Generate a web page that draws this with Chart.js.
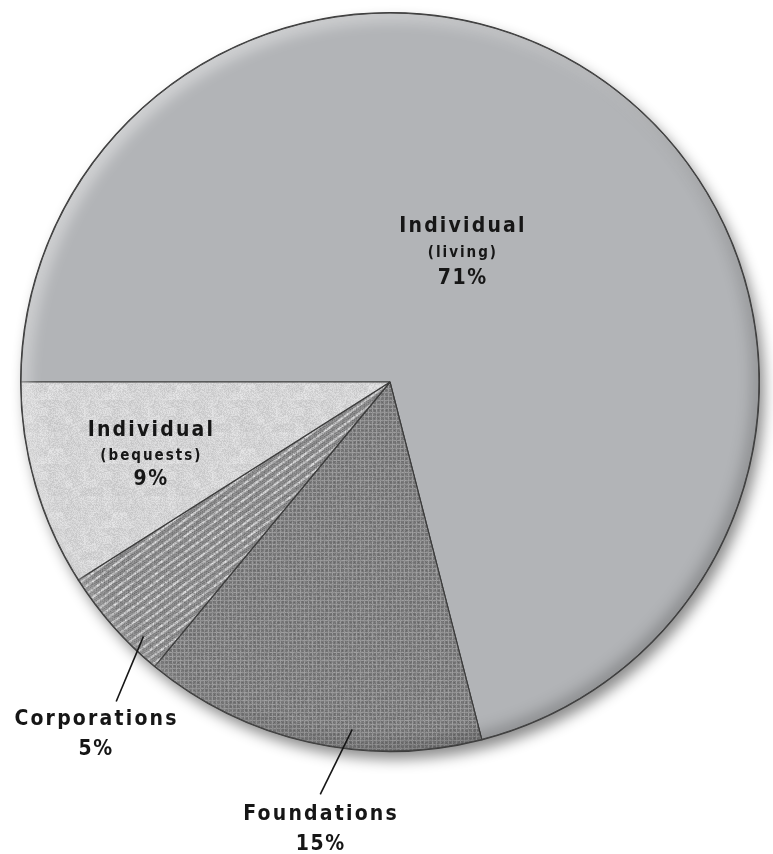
<!DOCTYPE html>
<html>
    <head>
        <meta charset="utf-8" />
        <title>Sources of giving</title>
        <script src="https://cdn.jsdelivr.net/npm/chart.js@4/dist/chart.umd.min.js"></script>
        <style>
            body { margin: 0; background: #fff; }
            #wrap { width: 773px; height: 854px; position: relative; }
        </style>
        <script>
            // slices in drawing order, clockwise from 9 o'clock
            const categories = ["Individual (living)", "Foundations", "Corporations", "Individual (bequests)"];
            const shares = [71, 15, 5, 9];
            const labelTitles = ["Individual", "Foundations", "Corporations", "Individual"];
            const labelNotes = ["(living)", null, null, "(bequests)"];

            // where each label sits, relative to its slice's middle angle (deg) and the radius
            const labelPlace = [
                { turn: -13.0, dist: 0.464, gaps: [27, 25] },
                { turn: -3.4, dist: 1.185, gaps: [30], leader: [-6.4, 0.946, -3.0, 1.132] },
                { turn: -7.5, dist: 1.213, gaps: [30], leader: [-4.5, 0.959, -8.0, 1.139] },
                { turn: 4.7, dist: 0.662, gaps: [25, 24] }
            ];

            const FONT = '"DejaVu Sans Condensed", "DejaVu Sans", sans-serif';

            // cheap integer hash so the textures are the same every time
            function hash(x, y, s)
            {
                let n = Math.imul(x, 374761393) + Math.imul(y, 668265263) + Math.imul(s, 1442695041);
                n = Math.imul(n ^ (n >>> 13), 1274126177);
                n = n ^ (n >>> 16);
                return (n >>> 0) / 4294967295;
            }

            function makeTexture(size, shade)
            {
                let c = document.createElement("canvas");
                c.width = size; c.height = size;
                let g = c.getContext("2d");
                let img = g.createImageData(size, size);
                for (let y = 0; y < size; y++) {
                    for (let x = 0; x < size; x++) {
                        let v = Math.max(0, Math.min(255, Math.round(shade(x, y))));
                        let i = (y * size + x) * 4;
                        img.data[i] = v; img.data[i + 1] = v; img.data[i + 2] = v + 1; img.data[i + 3] = 255;
                    }
                }
                g.putImageData(img, 0, 0);
                return g.createPattern(c, "repeat");
            }

            function buildFills()
            {
                // plain grey for the big slice
                let living = "#b2b4b7";

                // light speckled stone
                let bequests = makeTexture(64, (x, y) => {
                    let blot = hash(x >> 3, y >> 3, 7) * 10;
                    return 208 + blot + (hash(x, y, 1) - 0.5) * 26;
                });

                // streaky woven grey, pale streaks running down to the left
                let corporations = makeTexture(64, (x, y) => {
                    let s = Math.sin(2 * Math.PI * 2 * (3 * x + 4 * y) / 64);
                    let broken = 0.4 + 0.6 * hash((4 * x - 3 * y + 256) >> 3, (3 * x + 4 * y) >> 4, 3);
                    let weave = ((x + 2 * y) % 4 === 0) ? -16 : 0;
                    return 138 + Math.max(0, s) * 85 * broken + weave + (hash(x, y, 2) - 0.5) * 30;
                });

                // fine crosshatch
                let foundations = makeTexture(64, (x, y) => {
                    let line = (x % 4 === 0 || y % 4 === 0) ? 30 : 0;
                    let dot = (x % 4 === 2 && y % 4 === 2) ? -10 : 0;
                    return 120 + line + dot + (hash(x, y, 5) - 0.5) * 22;
                });

                return [living, foundations, corporations, bequests];
            }

            function pieGeometry(chart)
            {
                let arc = chart.getDatasetMeta(0).data[0];
                return arc.getProps(["x", "y", "outerRadius"], true);
            }

            // soft drop shadow under the whole pie
            const dropShadow = {
                id: "dropShadow",
                beforeDatasetsDraw(chart)
                {
                    let { ctx } = chart;
                    let p = pieGeometry(chart);
                    ctx.save();
                    ctx.shadowColor = "rgba(0,0,0,0.45)";
                    ctx.shadowBlur = 14;
                    ctx.shadowOffsetX = 5;
                    ctx.shadowOffsetY = 8;
                    ctx.beginPath();
                    ctx.arc(p.x, p.y, p.outerRadius, 0, Math.PI * 2);
                    ctx.fillStyle = "#999";
                    ctx.fill();
                    ctx.restore();
                }
            };

            // raised rim: light on the upper left, dark on the lower right
            const bevel = {
                id: "bevel",
                afterDatasetsDraw(chart)
                {
                    let { ctx } = chart;
                    let p = pieGeometry(chart);
                    let rim = (color, dx, dy) => {
                        ctx.save();
                        ctx.beginPath();
                        ctx.arc(p.x, p.y, p.outerRadius - 0.5, 0, Math.PI * 2);
                        ctx.clip();
                        ctx.beginPath();
                        ctx.rect(p.x - p.outerRadius * 2, p.y - p.outerRadius * 2, p.outerRadius * 4, p.outerRadius * 4);
                        ctx.arc(p.x, p.y, p.outerRadius, 0, Math.PI * 2, true);
                        ctx.shadowColor = color;
                        ctx.shadowBlur = 16;
                        ctx.shadowOffsetX = dx;
                        ctx.shadowOffsetY = dy;
                        ctx.fillStyle = "#000";
                        ctx.fill("evenodd");
                        ctx.restore();
                    };
                    rim("rgba(255,255,255,0.55)", 6, 6);
                    rim("rgba(0,0,0,0.25)", -5, -5);

                    // outline again on top of the rim shading
                    ctx.save();
                    ctx.beginPath();
                    ctx.arc(p.x, p.y, p.outerRadius - 0.5, 0, Math.PI * 2);
                    ctx.strokeStyle = "#444";
                    ctx.lineWidth = 1;
                    ctx.stroke();
                    ctx.restore();
                }
            };

            // slice labels, plus leader lines for the two narrow ones outside
            const sliceLabels = {
                id: "sliceLabels",
                afterDraw(chart)
                {
                    let { ctx } = chart;
                    let arcs = chart.getDatasetMeta(0).data;
                    let polar = (p, deg, frac) => {
                        let a = deg * Math.PI / 180;
                        return [p.x + Math.cos(a) * p.outerRadius * frac, p.y + Math.sin(a) * p.outerRadius * frac];
                    };
                    ctx.save();
                    ctx.fillStyle = "#161616";
                    ctx.strokeStyle = "#161616";
                    ctx.textAlign = "center";
                    ctx.textBaseline = "middle";
                    arcs.forEach((arc, i) => {
                        let p = arc.getProps(["x", "y", "startAngle", "endAngle", "outerRadius"], true);
                        let mid = (p.startAngle + p.endAngle) / 2 * 180 / Math.PI;
                        let place = labelPlace[i];

                        if (place.leader) {
                            let [a1, f1, a2, f2] = place.leader;
                            let from = polar(p, mid + a1, f1);
                            let to = polar(p, mid + a2, f2);
                            ctx.lineWidth = 1.6;
                            ctx.beginPath();
                            ctx.moveTo(from[0], from[1]);
                            ctx.lineTo(to[0], to[1]);
                            ctx.stroke();
                        }

                        let lines = [{ text: labelTitles[i], font: "bold 21px " + FONT, spacing: "2.2px" }];
                        if (labelNotes[i]) lines.push({ text: labelNotes[i], font: "bold 15px " + FONT, spacing: "2px" });
                        lines.push({ text: shares[i] + "%", font: "bold 21px " + FONT, spacing: "1.6px" });

                        let [x, y] = polar(p, mid + place.turn, place.dist);
                        lines.forEach((line, k) => {
                            if (k > 0) y += place.gaps[k - 1];
                            ctx.font = line.font;
                            ctx.letterSpacing = line.spacing;
                            ctx.fillText(line.text, x + parseFloat(line.spacing) / 2, y);
                        });
                    });
                    ctx.restore();
                }
            };

            function drawChart()
            {
                let canvas = document.getElementById("giving");

                new Chart(canvas, {
                    type: "pie",
                    data: {
                        labels: categories,
                        datasets: [{
                            data: shares,
                            backgroundColor: buildFills(),
                            borderColor: "#3c3c3c",
                            borderWidth: 1.2,
                            hoverOffset: 0
                        }]
                    },
                    options: {
                        responsive: true,
                        maintainAspectRatio: false,
                        animation: false,
                        rotation: -90,
                        layout: { padding: { left: 20, right: 13, top: 12, bottom: 102 } },
                        plugins: {
                            legend: { display: false },
                            tooltip: { enabled: false }
                        }
                    },
                    plugins: [dropShadow, bevel, sliceLabels]
                });
            }
        </script>
    </head>

    <body onload="drawChart()">
        <div id="wrap">
            <canvas id="giving"></canvas>
        </div>
    </body>
</html>
